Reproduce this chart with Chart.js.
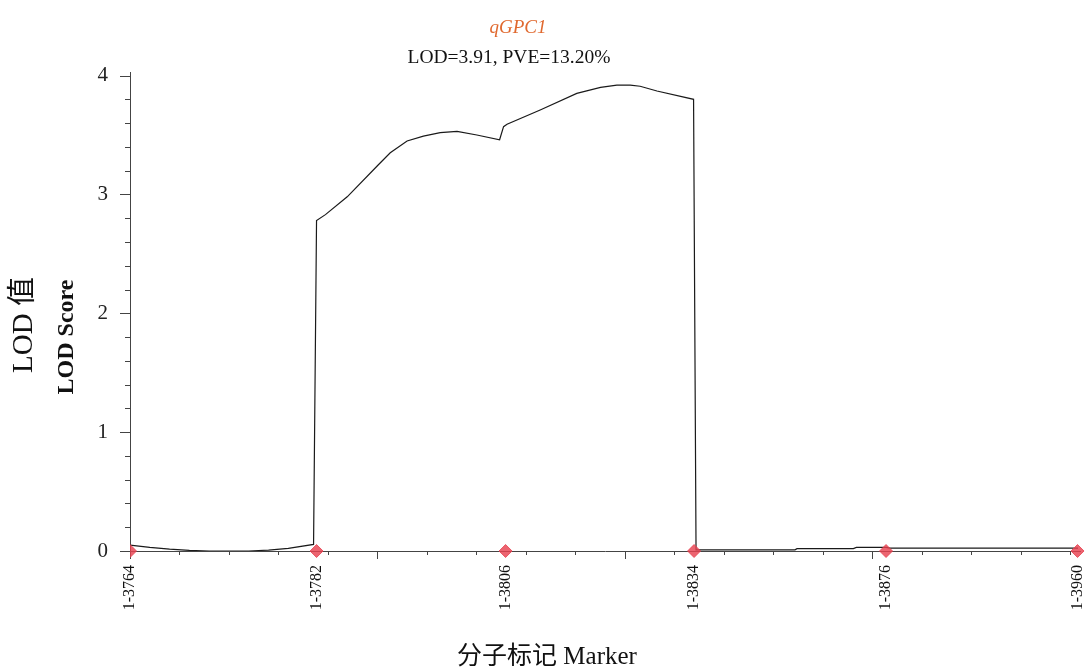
<!DOCTYPE html>
<html>
<head>
<meta charset="utf-8">
<script src="https://cdn.jsdelivr.net/npm/chart.js@4/dist/chart.umd.min.js"></script>
<style>
  html, body { margin: 0; padding: 0; background: #fff; }
  #wrap { width: 1088px; height: 670px; }
</style>
</head>
<body>
<div id="wrap"><canvas id="chart" width="1088" height="670"></canvas></div>
<script>
// positions along the linkage group (cM) and LOD of the scan
const positions = [0, 0.4, 0.8, 1.2, 1.6, 2.4, 2.8, 3.2, 3.71, 3.77, 3.95, 4.39, 5.02, 5.26, 5.6, 5.93,
  6.27, 6.61, 7.01, 7.47, 7.55, 7.62, 8.29, 9.03, 9.51, 9.84, 10.11, 10.31, 10.65, 11.39, 11.44,
  13.44, 13.48, 14.62, 14.68, 15.28, 15.36, 19.16];
const lodValues = [0.05, 0.03, 0.015, 0.005, 0, 0, 0.008, 0.022, 0.055, 2.78, 2.83, 2.98, 3.25, 3.35, 3.45, 3.49,
  3.52, 3.53, 3.5, 3.46, 3.57, 3.59, 3.71, 3.85, 3.9, 3.92, 3.92, 3.91, 3.87, 3.8, 0.01,
  0.01, 0.02, 0.02, 0.03, 0.03, 0.025, 0.025];

// markers (labels on x axis)
const markerNames = ['1-3764', '1-3782', '1-3806', '1-3834', '1-3876', '1-3960'];
const markerPositions = [0, 3.77, 7.59, 11.40, 15.28, 19.15];

const yTicks = [0, 1, 2, 3, 4];
const yMinorStep = 0.2;
const xMinorStep = 1;
const majorEvery = 5;

const serif = '"Liberation Serif", "Times New Roman", "Noto Sans CJK SC", serif';

const curve = positions.map((p, i) => ({ x: p, y: lodValues[i] }));
const markers = markerPositions.map(p => ({ x: p, y: 0 }));

// small and large tick marks on both axes
const tickMarks = {
  id: 'tickMarks',
  beforeDatasetsDraw(chart) {
    const ctx = chart.ctx;
    const xs = chart.scales.x, ys = chart.scales.y;
    ctx.save();
    ctx.strokeStyle = '#444';
    ctx.lineWidth = 1;
    ctx.beginPath();
    for (let i = 0; i * xMinorStep <= xs.max; i++) {
      const px = Math.round(xs.getPixelForValue(i * xMinorStep)) + 0.5;
      const len = i % majorEvery === 0 ? 8 : 4;
      ctx.moveTo(px, xs.top);
      ctx.lineTo(px, xs.top + len);
    }
    for (let i = 0; i * yMinorStep <= 4.0001; i++) {
      const py = Math.round(ys.getPixelForValue(i * yMinorStep)) + 0.5;
      const len = i % majorEvery === 0 ? 10 : 5;
      ctx.moveTo(ys.right - len, py);
      ctx.lineTo(ys.right, py);
    }
    ctx.stroke();
    ctx.restore();
  }
};

// title, subtitle and axis titles
const textLayer = {
  id: 'textLayer',
  afterDraw(chart) {
    const ctx = chart.ctx;
    ctx.save();
    ctx.textAlign = 'center';
    ctx.textBaseline = 'middle';

    ctx.fillStyle = '#e0692f';
    ctx.font = 'italic 19px ' + serif;
    ctx.fillText('qGPC1', 518, 28);

    ctx.fillStyle = '#111';
    ctx.font = '19.5px ' + serif;
    ctx.fillText('LOD=3.91, PVE=13.20%', 509, 58);

    ctx.font = '25px ' + serif;
    ctx.fillText('分子标记 Marker', 547, 657);

    ctx.translate(24, 325);
    ctx.rotate(-Math.PI / 2);
    ctx.font = '29px ' + serif;
    ctx.fillText('LOD 值', 0, 0);
    ctx.restore();

    ctx.save();
    ctx.textAlign = 'center';
    ctx.textBaseline = 'middle';
    ctx.fillStyle = '#111';
    ctx.translate(67, 337);
    ctx.rotate(-Math.PI / 2);
    ctx.font = 'bold 24px ' + serif;
    ctx.fillText('LOD Score', 0, 0);
    ctx.restore();
  }
};

new Chart(document.getElementById('chart'), {
  type: 'line',
  data: {
    datasets: [
      {
        data: curve,
        borderColor: '#1a1a1a',
        borderWidth: 1.2,
        pointRadius: 0,
        tension: 0,
        fill: false,
        order: 1
      },
      {
        type: 'scatter',
        data: markers,
        pointStyle: 'rectRot',
        pointRadius: 6.5,
        backgroundColor: 'rgba(232, 66, 80, 0.82)',
        borderColor: 'rgba(232, 66, 80, 0.82)',
        // cut at the left edge only, like the original
        clip: { left: 0, top: false, right: false, bottom: false },
        order: 0
      }
    ]
  },
  options: {
    responsive: false,
    animation: false,
    layout: { padding: { top: 72, right: 8, left: 0, bottom: 0 } },
    plugins: {
      legend: { display: false },
      tooltip: { enabled: false }
    },
    scales: {
      x: {
        type: 'linear',
        min: 0,
        max: 19.2,
        afterBuildTicks: s => { s.ticks = markerPositions.map(v => ({ value: v })); },
        afterFit: s => {
          s.height = 119;
          s.paddingLeft = 0;
          s.paddingRight = 0;
        },
        grid: { display: false, drawTicks: false },
        border: { display: true, color: '#444', width: 1 },
        ticks: {
          autoSkip: false,
          minRotation: 90,
          maxRotation: 90,
          padding: 14,
          color: '#111',
          font: { family: serif, size: 16 },
          callback: (v, i) => markerNames[i]
        }
      },
      y: {
        min: 0,
        max: 4.03,
        afterBuildTicks: s => { s.ticks = yTicks.map(v => ({ value: v })); },
        afterFit: s => {
          s.width = 130;
          s.paddingTop = 0;
          s.paddingBottom = 0;
        },
        grid: { display: false, drawTicks: false },
        border: { display: true, color: '#444', width: 1 },
        ticks: {
          padding: 22,
          color: '#222',
          font: { family: serif, size: 21 },
          callback: v => String(v)
        }
      }
    }
  },
  plugins: [tickMarks, textLayer]
});
</script>
</body>
</html>
